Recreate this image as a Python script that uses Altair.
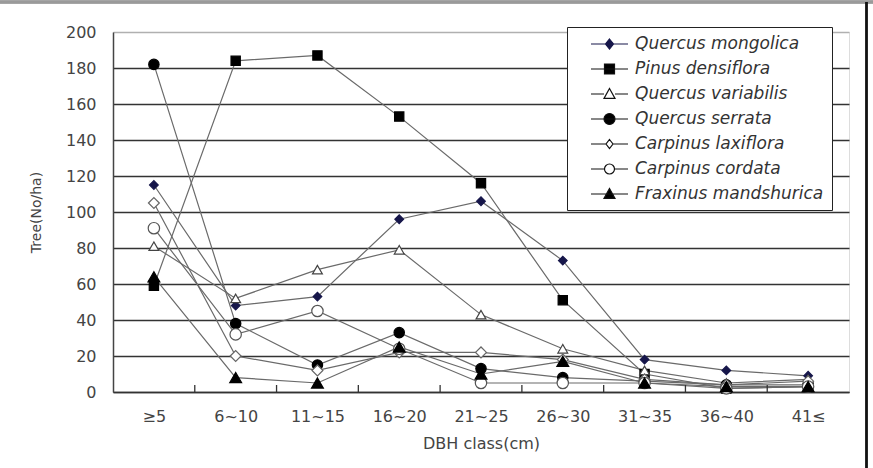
import altair as alt
import pandas as pd

categories = ["≥5", "6~10", "11~15", "16~20", "21~25", "26~30", "31~35", "36~40", "41≤"]
species = ["Quercus mongolica", "Pinus densiflora", "Quercus variabilis", "Quercus serrata",
           "Carpinus laxiflora", "Carpinus cordata", "Fraxinus mandshurica"]
q_mongolica = [115, 48, 53, 96, 106, 73, 18, 12, 9]
p_densiflora = [59, 184, 187, 153, 116, 51, 10, 2, 3]
q_variabilis = [81, 52, 68, 79, 43, 24, 12, 5, 7]
q_serrata = [182, 38, 15, 33, 13, 8, 6, 4, 4]
c_laxiflora = [105, 20, 12, 22, 22, 18, 7, 4, 6]
c_cordata = [91, 32, 45, 24, 5, 5, 5, 2, 3]
f_mandshurica = [64, 8, 5, 25, 10, 17, 5, 3, 3]
series = [q_mongolica, p_densiflora, q_variabilis, q_serrata, c_laxiflora, c_cordata, f_mandshurica]
y_ticks = [0, 20, 40, 60, 80, 100, 120, 140, 160, 180, 200]

rows = []
for sp, vals in zip(species, series):
    for c, v in zip(categories, vals):
        rows.append({"species": sp, "dbh": c, "trees": v})
df = pd.DataFrame(rows)

W, H = 736, 360
step = W / len(categories)

point_shapes = ["diamond", "square", "triangle-up", "circle", "diamond", "circle", "triangle-up"]
fills = ["#16164a", "#000000", "#ffffff", "#000000", "#ffffff", "#ffffff", "#000000"]
strokes = ["#16164a", "#000000", "#444444", "#000000", "#666666", "#555555", "#000000"]
sizes = [75, 140, 120, 240, 60, 140, 120]

# ---- legend symbol paths (line segment + marker), built in pixel units ----
SYM = 16.0            # legend symbolSize = SYM**2 ; custom path unit = SYM/2 px
U = SYM / 2
LX0, LX1, CX = 7.0, 44.0, 25.5   # line start/end and marker centre, px from symbol origin


def u(v):
    return round(v / U, 4)


def seg(gap=0.0):
    if gap <= 0:
        return f"M{u(LX0)},0L{u(LX1)},0"
    return f"M{u(LX0)},0L{u(CX - gap)},0M{u(CX + gap)},0L{u(LX1)},0"


def diamond(hw, hh):
    return f"M{u(CX)},{u(-hh)}L{u(CX + hw)},0L{u(CX)},{u(hh)}L{u(CX - hw)},0Z"


def square(h):
    return f"M{u(CX - h)},{u(-h)}L{u(CX + h)},{u(-h)}L{u(CX + h)},{u(h)}L{u(CX - h)},{u(h)}Z"


def triangle(h):
    return f"M{u(CX)},{u(-h)}L{u(CX + h)},{u(0.8 * h)}L{u(CX - h)},{u(0.8 * h)}Z"


def circle(r):
    return (f"M{u(CX - r)},0A{u(r)},{u(r)} 0 1,0 {u(CX + r)},0"
            f"A{u(r)},{u(r)} 0 1,0 {u(CX - r)},0Z")


legend_paths = [
    seg() + diamond(4, 5),
    seg() + square(5),
    seg(5.5) + triangle(5.5),
    seg() + circle(5.5),
    seg(3.5) + diamond(3.5, 4.5),
    seg(5) + circle(5),
    seg() + triangle(5.5),
]

font = "DejaVu Sans"
xscale = alt.Scale(type="point", domain=categories, padding=0.5)
yscale = alt.Scale(domain=[0, 200], nice=False)

x_axis = alt.Axis(title="DBH class(cm)", labelAngle=0, ticks=False, labelPadding=16,
                  labelBaseline="top", labelFont=font, labelFontSize=16, labelColor="#444",
                  titleFont=font, titleFontSize=16, titleFontWeight="normal", titleColor="#444",
                  titleY=51, titleBaseline="middle",
                  domainColor="#333", domainWidth=1.5, grid=False)
y_axis = alt.Axis(title="Tree(No/ha)", values=y_ticks, ticks=False, labelPadding=17, labelOverlap=False,
                  labelFont=font, labelFontSize=16, labelColor="#444",
                  titleFont=font, titleFontSize=14, titleFontWeight="normal", titleColor="#444",
                  titleX=-77, titleY=180, titleBaseline="middle", titleAngle=-90,
                  domainColor="#444", domainWidth=1.5,
                  grid=True, gridWidth=1.3,
                  gridColor={"condition": {"test": "datum.value == 200", "value": "#b0b0b0"},
                             "value": "#333333"})

x_enc = alt.X("dbh:N", scale=xscale, sort=categories, axis=x_axis)
y_enc = alt.Y("trees:Q", scale=yscale, axis=y_axis)

base = alt.Chart(df)

lines = base.mark_line(color="#6a6a6a", strokeWidth=1.2).encode(
    x=x_enc, y=y_enc, detail="species:N")

points = base.mark_point(filled=False, strokeWidth=1.2, opacity=1).encode(
    x=x_enc, y=y_enc,
    shape=alt.Shape("species:N", scale=alt.Scale(domain=species, range=point_shapes), legend=None),
    fill=alt.Fill("species:N", scale=alt.Scale(domain=species, range=fills), legend=None),
    stroke=alt.Stroke("species:N", scale=alt.Scale(domain=species, range=strokes), legend=None),
    size=alt.Size("species:N", scale=alt.Scale(domain=species, range=sizes), legend=None),
)

leg = alt.Legend(title=None, orient="none", legendX=454, legendY=-5,
                 labelFont=font, labelFontSize=17, labelFontStyle="italic", labelColor="#333",
                 labelOffset=42, rowPadding=8, padding=8, strokeColor="#222", fillColor="#ffffff",
                 symbolOpacity=1, symbolStrokeWidth=1.2, symbolSize=SYM * SYM, labelLimit=300)

legend_layer = base.mark_point(filled=False, strokeWidth=1.2, size=SYM * SYM, clip=True).encode(
    x=x_enc,
    y=alt.value(-200),
    shape=alt.Shape("species:N", scale=alt.Scale(domain=species, range=legend_paths), legend=leg),
    fill=alt.Fill("species:N", scale=alt.Scale(domain=species, range=fills), legend=leg),
    stroke=alt.Stroke("species:N", scale=alt.Scale(domain=species, range=["#16164a"] + ["#111111"] * 6), legend=leg),
)

tick_df = pd.DataFrame({"dbh": categories[1:], "trees": [0] * 8, "y1": [3.9] * 8})
ticks = alt.Chart(tick_df).mark_rule(color="#333", strokeWidth=1.3, xOffset=-step / 2).encode(
    x=x_enc, y=y_enc, y2="y1:Q")

frame_top = alt.Chart(tick_df).mark_rule(color="#9a9a9a", strokeWidth=2.5).encode(
    x=alt.value(-113), x2=alt.value(760), y=alt.value(-30))
frame_right = alt.Chart(tick_df).mark_rule(color="#111", strokeWidth=1.5).encode(
    x=alt.value(753.5), y=alt.value(-30), y2=alt.value(436))

chart = alt.layer(lines, ticks, points, legend_layer, frame_top, frame_right).resolve_scale(
    shape="independent", fill="independent", stroke="independent"
).properties(
    width=W, height=H,
    autosize=alt.AutoSizeParams(type="none"),
    padding={"left": 113, "top": 32, "right": 24, "bottom": 76},
).configure_view(stroke="#888888", strokeWidth=1.2).configure(background="white")

chart.save("out.html", embed_options={"renderer": "svg", "actions": False})
